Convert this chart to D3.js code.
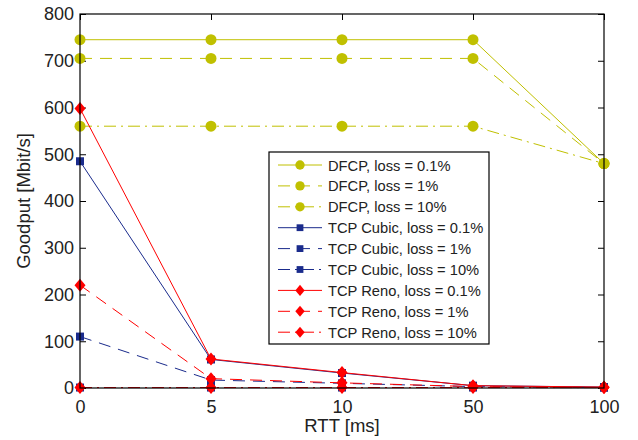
<!DOCTYPE html>
<html>
<head>
<meta charset="utf-8">
<script src="https://cdn.jsdelivr.net/npm/d3@7"></script>
<style>
body { margin: 0; background: #fff; }
text { font-family: "Liberation Sans", Arial, sans-serif; fill: #222; }
</style>
</head>
<body>
<svg id="chart" width="638" height="440"></svg>
<script>
// x categories (RTT in ms)
const rtt = ["0", "5", "10", "50", "100"];
const yTicks = [0, 100, 200, 300, 400, 500, 600, 700, 800];

// goodput values in Mbit/s
const dfcp01 = [745, 745, 745, 745, 480];
const dfcp1 = [705, 705, 705, 705, 480];
const dfcp10 = [560, 560, 560, 560, 480];
const cubic01 = [485, 61, 32, 5, 2];
const cubic1 = [110, 17, 10, 3, 1];
const cubic10 = [1, 1, 1, 1, 1];
const reno01 = [598, 62, 33, 5, 2];
const reno1 = [220, 20, 11, 3, 1];
const reno10 = [1, 1, 1, 1, 1];

const olive = "#c0c000", navy = "#1a2b8c", red = "#ff0000";

const series = [
    {name: "DFCP, loss = 0.1%", values: dfcp01, color: olive, dash: null, marker: "circle"},
    {name: "DFCP, loss = 1%", values: dfcp1, color: olive, dash: "12,8", marker: "circle"},
    {name: "DFCP, loss = 10%", values: dfcp10, color: olive, dash: "12,5,2,5", marker: "circle"},
    {name: "TCP Cubic, loss = 0.1%", values: cubic01, color: navy, dash: null, marker: "square"},
    {name: "TCP Cubic, loss = 1%", values: cubic1, color: navy, dash: "12,8", marker: "square"},
    {name: "TCP Cubic, loss = 10%", values: cubic10, color: navy, dash: "12,5,2,5", marker: "square"},
    {name: "TCP Reno, loss = 0.1%", values: reno01, color: red, dash: null, marker: "diamond"},
    {name: "TCP Reno, loss = 1%", values: reno1, color: red, dash: "12,8", marker: "diamond"},
    {name: "TCP Reno, loss = 10%", values: reno10, color: red, dash: "12,5,2,5", marker: "diamond"}
];

const margin = {left: 80, top: 14, right: 34, bottom: 52};
const width = 638 - margin.left - margin.right;
const height = 440 - margin.top - margin.bottom;

const svg = d3.select("#chart");
const g = svg.append("g").attr("transform", `translate(${margin.left},${margin.top})`);

const x = d3.scalePoint().domain(rtt).range([0, width]);
const y = d3.scaleLinear().domain([0, 800]).range([height, 0]);

function drawMarker(sel, type, color) {
    if (type == "circle") {
        sel.append("circle").attr("r", 5.5).attr("fill", color);
    } else if (type == "square") {
        sel.append("rect").attr("x", -4).attr("y", -4).attr("width", 8).attr("height", 8).attr("fill", color);
    } else {
        sel.append("path").attr("d", "M0,-6.5L5.5,0L0,6.5L-5.5,0Z").attr("fill", color);
    }
}

// axes with inward ticks
g.append("g")
    .attr("transform", `translate(0,${height})`)
    .call(d3.axisBottom(x).tickSize(-6).tickPadding(12))
    .call(a => a.select(".domain").remove());
g.append("g")
    .call(d3.axisTop(x).tickSize(-6).tickFormat(""))
    .call(a => a.select(".domain").remove());
g.append("g")
    .call(d3.axisLeft(y).tickValues(yTicks).tickSize(-6).tickPadding(6))
    .call(a => a.select(".domain").remove());
g.append("g")
    .attr("transform", `translate(${width},0)`)
    .call(d3.axisRight(y).tickValues(yTicks).tickSize(-6).tickFormat(""))
    .call(a => a.select(".domain").remove());

g.selectAll(".tick text").attr("font-size", 18).attr("font-family", "Liberation Sans, Arial, sans-serif").attr("fill", "#222");
g.selectAll(".tick line").attr("stroke", "#000");

const line = d3.line().x((d, i) => x(rtt[i])).y(d => y(d));

series.forEach(s => {
    g.append("path")
        .attr("d", line(s.values))
        .attr("fill", "none")
        .attr("stroke", s.color)
        .attr("stroke-width", 1)
        .attr("stroke-dasharray", s.dash);
    s.values.forEach((v, i) => {
        const m = g.append("g").attr("transform", `translate(${x(rtt[i])},${y(v)})`);
        drawMarker(m, s.marker, s.color);
    });
});

// plot box
g.append("rect").attr("width", width).attr("height", height)
    .attr("fill", "none").attr("stroke", "#000").attr("stroke-width", 1.2);

// axis labels
svg.append("text").attr("x", margin.left + width / 2).attr("y", 432)
    .attr("text-anchor", "middle").attr("font-size", 18.5).text("RTT [ms]");
svg.append("text").attr("transform", `translate(30,${margin.top + height / 2}) rotate(-90)`)
    .attr("text-anchor", "middle").attr("font-size", 18.5).text("Goodput [Mbit/s]");

// legend
const lg = svg.append("g").attr("transform", "translate(269,152)");
lg.append("rect").attr("width", 220).attr("height", 192)
    .attr("fill", "#fff").attr("stroke", "#000").attr("stroke-width", 1.2);
series.forEach((s, i) => {
    const row = lg.append("g").attr("transform", `translate(0,${13 + i * 20.9})`);
    row.append("line").attr("x1", 9).attr("x2", 53).attr("y1", 0).attr("y2", 0)
        .attr("stroke", s.color).attr("stroke-width", 1).attr("stroke-dasharray", s.dash);
    const m = row.append("g").attr("transform", "translate(31,0)");
    drawMarker(m, s.marker, s.color);
    m.selectAll("*").attr("transform", "scale(0.85)");
    row.append("text").attr("x", 59).attr("y", 5.5).attr("font-size", 14.7).text(s.name);
});
</script>
</body>
</html>
